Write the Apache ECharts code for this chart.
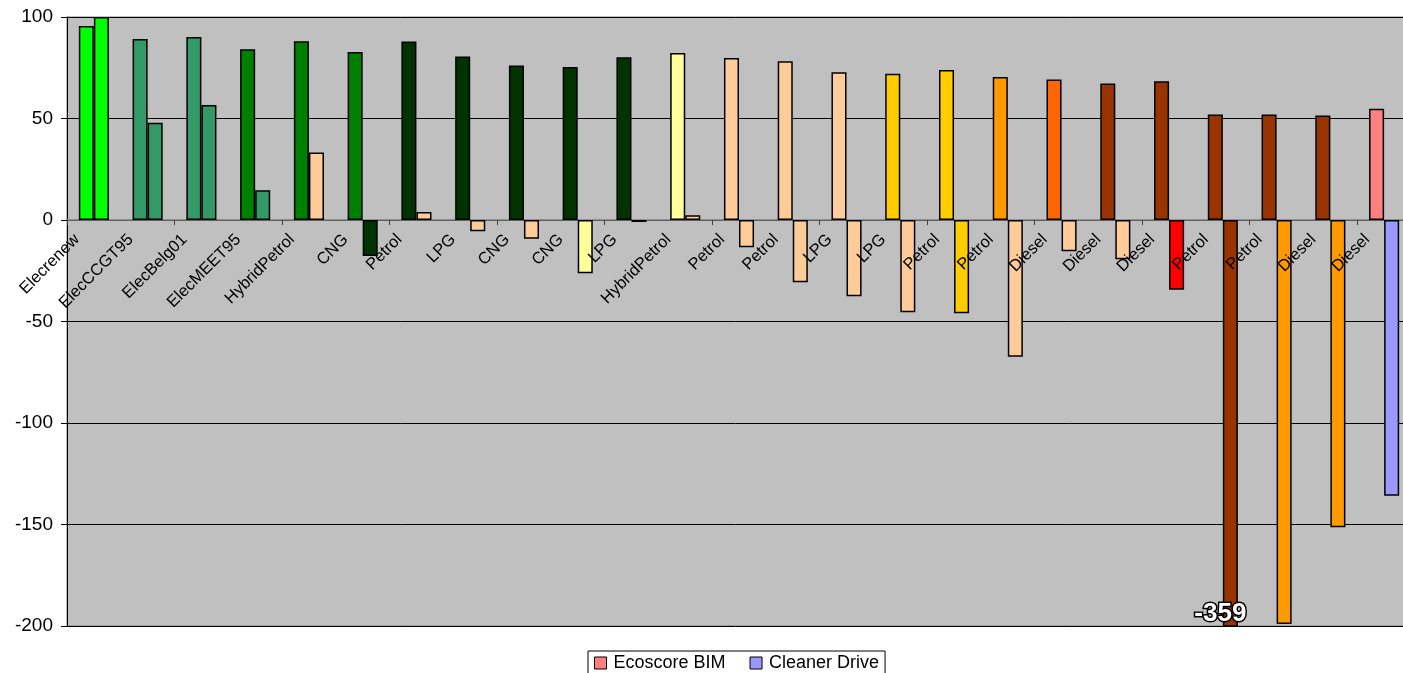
<!DOCTYPE html>
<html>
<head>
<meta charset="utf-8">
<script src="https://cdn.jsdelivr.net/npm/echarts@6/dist/echarts.min.js"></script>
<style>
  html, body { margin: 0; padding: 0; background: #fff; }
  #chart { width: 1403px; height: 673px; }
</style>
</head>
<body>
<div id="chart"></div>
<script>
const categories = [
  "Elecrenew", "ElecCCGT95", "ElecBelg01", "ElecMEET95", "HybridPetrol",
  "CNG", "Petrol", "LPG", "CNG", "CNG", "LPG", "HybridPetrol", "Petrol",
  "Petrol", "LPG", "LPG", "Petrol", "Petrol", "Diesel", "Diesel", "Diesel",
  "Petrol", "Petrol", "Diesel", "Diesel"
];
const ecoscoreBim = [
  95.6, 89.2, 90.2, 84.1, 88, 82.8, 87.9, 80.5, 76.1, 75.4, 80.2, 82.3, 79.8,
  78.2, 72.8, 72.1, 73.9, 70.5, 69.2, 67.2, 68.4, 52, 52, 51.5, 54.8
];
const cleanerDrive = [
  100, 47.9, 56.6, 14.6, 33.3, -17.7, 3.9, -5.6, -9.2, -26.2, -1, 2.3, -13.4,
  -30.7, -37.5, -45.4, -45.9, -67.4, -15.4, -19.3, -34.3, -359, -199, -151.4, -135.8
];
const yTicks = [-200, -150, -100, -50, 0, 50, 100];

// per-bar fill colours
const bimColors = [
  "#00FF00", "#339966", "#339966", "#008000", "#008000", "#008000", "#003300",
  "#003300", "#003300", "#003300", "#003300", "#FFFF99", "#FFCC99", "#FFCC99",
  "#FFCC99", "#FFCC00", "#FFCC00", "#FF9900", "#FF6600", "#993300", "#993300",
  "#993300", "#993300", "#993300", "#FF8080"
];
const cdColors = [
  "#00FF00", "#339966", "#339966", "#339966", "#FFCC99", "#003300", "#FFCC99",
  "#FFCC99", "#FFCC99", "#FFFF99", "#003300", "#FFCC99", "#FFCC99", "#FFCC99",
  "#FFCC99", "#FFCC99", "#FFCC00", "#FFCC99", "#FFCC99", "#FFCC99", "#FF0000",
  "#993300", "#FF9900", "#FF9900", "#9999FF"
];

const font = "Arial, 'Liberation Sans', sans-serif";
const chart = echarts.init(document.getElementById("chart"));

const toItems = (values, colors) =>
  values.map((v, i) => ({ value: v, itemStyle: { color: colors[i] } }));

const barStyle = { borderColor: "#000", borderWidth: 1.5 };

// grid: plot spans y 17..626, zero line at y 220
const gridTop = 17, gridBottom = 47;
const zeroOffset = -(673 - gridBottom - 220);

chart.setOption({
  animation: false,
  grid: {
    left: 67, top: gridTop, bottom: gridBottom, width: 1344,
    containLabel: false, outerBoundsMode: "none",
    show: true, backgroundColor: "#C0C0C0", borderColor: "#808080", borderWidth: 1
  },
  legend: {
    left: 588, top: 651,
    padding: [3, 6, 3, 6],
    itemGap: 24, itemWidth: 12, itemHeight: 12,
    icon: "rect",
    borderColor: "#000", borderWidth: 1, backgroundColor: "#fff",
    itemStyle: { borderColor: "#000", borderWidth: 1 },
    textStyle: { fontFamily: font, fontSize: 18, color: "#000", padding: [0, 0, 0, 2] },
    data: [
      { name: "Ecoscore BIM", itemStyle: { color: "#FF8080" } },
      { name: "Cleaner Drive", itemStyle: { color: "#9999FF" } }
    ]
  },
  xAxis: [
    {
      type: "category",
      data: categories,
      axisLine: { onZero: true, lineStyle: { color: "#808080", width: 1.5 } },
      axisTick: { show: true, length: 5, lineStyle: { color: "#404040" } },
      axisLabel: { show: false },
      splitLine: { show: false }
    },
    {
      // label-only axis sitting on the zero line, drawn over the bars
      type: "category",
      data: categories,
      position: "bottom",
      offset: zeroOffset,
      z: 10,
      axisLine: { show: false, onZero: false },
      axisTick: { show: false },
      axisLabel: {
        interval: 0, rotate: 45, margin: 0,
        fontFamily: font, fontSize: 16.5, color: "#000",
        padding: [0, 24, 23, 0]
      },
      splitLine: { show: false }
    }
  ],
  yAxis: {
    type: "value",
    min: yTicks[0], max: yTicks[yTicks.length - 1], interval: 50,
    axisLine: { show: true, lineStyle: { color: "#000" } },
    axisTick: { show: true, length: 6, lineStyle: { color: "#000" } },
    axisLabel: { fontFamily: font, fontSize: 19, color: "#000", margin: 14 },
    splitLine: { lineStyle: { color: "#000", width: 1 } }
  },
  series: [
    {
      name: "Ecoscore BIM",
      type: "bar",
      barGap: "0%",
      barCategoryGap: "44%",
      itemStyle: barStyle,
      data: toItems(ecoscoreBim, bimColors)
    },
    {
      name: "Cleaner Drive",
      type: "bar",
      clip: true,
      itemStyle: barStyle,
      data: toItems(cleanerDrive, cdColors),
      markPoint: {
        symbol: "rect", symbolSize: 0,
        label: {
          show: true, position: "inside", formatter: "-359",
          offset: [-10, 4],
          fontFamily: font, fontSize: 26, fontWeight: "bold",
          color: "#fff", textBorderColor: "#000", textBorderWidth: 3
        },
        data: [{ coord: [21, -192] }]
      }
    }
  ]
});
</script>
</body>
</html>
